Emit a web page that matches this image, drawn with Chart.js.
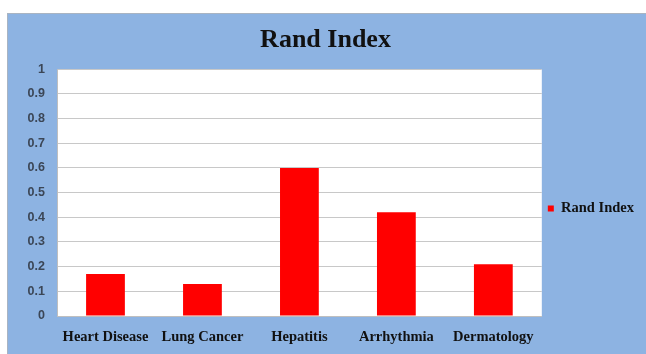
<!DOCTYPE html>
<html>
<head>
<meta charset="utf-8">
<script src="https://cdn.jsdelivr.net/npm/chart.js@4.4.1/dist/chart.umd.min.js"></script>
<style>
  html, body { margin: 0; padding: 0; background: #ffffff; }
  #wrap { width: 646px; height: 354px; position: relative; }
</style>
</head>
<body>
<div id="wrap"><canvas id="c" width="646" height="354"></canvas></div>
<script>
const categories = ['Heart Disease', 'Lung Cancer', 'Hepatitis', 'Arrhythmia', 'Dermatology'];
const randIndex = [0.17, 0.13, 0.6, 0.42, 0.21];
const seriesName = 'Rand Index';
const yTicks = [0, 0.1, 0.2, 0.3, 0.4, 0.5, 0.6, 0.7, 0.8, 0.9, 1];

const serif = '"Liberation Serif", "DejaVu Serif", serif';

// Blue frame behind everything, white plot area inside the axes
const framePlugin = {
  id: 'frame',
  beforeDraw(chart) {
    const ctx = chart.ctx;
    const a = chart.chartArea;
    ctx.save();
    ctx.fillStyle = '#ffffff';
    ctx.fillRect(0, 0, chart.width, chart.height);
    ctx.fillStyle = '#8db3e2';
    ctx.fillRect(7, 13, chart.width - 7, chart.height - 13);
    ctx.strokeStyle = '#a9b4c2';
    ctx.lineWidth = 1;
    ctx.strokeRect(7.5, 13.5, chart.width, chart.height);
    ctx.fillStyle = '#ffffff';
    ctx.fillRect(a.left, a.top, a.right - a.left, a.bottom - a.top);
    ctx.restore();
  }
};

new Chart(document.getElementById('c'), {
  type: 'bar',
  data: {
    labels: categories,
    datasets: [{
      label: seriesName,
      data: randIndex,
      backgroundColor: '#ff0000',
      borderWidth: 0,
      barPercentage: 0.4,
      categoryPercentage: 1.0
    }]
  },
  options: {
    responsive: false,
    animation: false,
    devicePixelRatio: 1,
    layout: { padding: { left: 7, top: 13, right: 2, bottom: 0 } },
    plugins: {
      title: {
        display: true,
        text: 'Rand Index',
        color: '#111111',
        font: { family: serif, size: 26, weight: 'bold' },
        padding: { top: 12, bottom: 13 }
      },
      legend: {
        display: true,
        position: 'right',
        title: { display: true, text: '', padding: 16, font: { size: 15 } },
        labels: {
          boxWidth: 6,
          boxHeight: 6,
          padding: 6,
          color: '#111111',
          font: { family: serif, size: 14.5, weight: 'bold' }
        }
      },
      tooltip: { enabled: false }
    },
    scales: {
      x: {
        grid: { display: false, drawTicks: false },
        border: { display: true, color: '#bfbfbf' },
        ticks: {
          color: '#111111',
          padding: 13,
          maxRotation: 0,
          autoSkip: false,
          font: { family: serif, size: 14.5, weight: 'bold' }
        },
        afterFit(scale) { scale.height = 38; }
      },
      y: {
        min: 0,
        max: 1,
        afterBuildTicks(scale) { scale.ticks = yTicks.map(v => ({ value: v })); },
        grid: { color: '#c8c8c8', drawTicks: false },
        border: { display: true, color: '#bfbfbf' },
        ticks: {
          color: '#3b4656',
          padding: 12,
          font: { family: '"Liberation Sans", Arial, sans-serif', size: 12.5, weight: 'bold' },
          callback: v => String(v)
        },
        afterFit(scale) { scale.width = 50; }
      }
    }
  },
  plugins: [framePlugin]
});
</script>
</body>
</html>
